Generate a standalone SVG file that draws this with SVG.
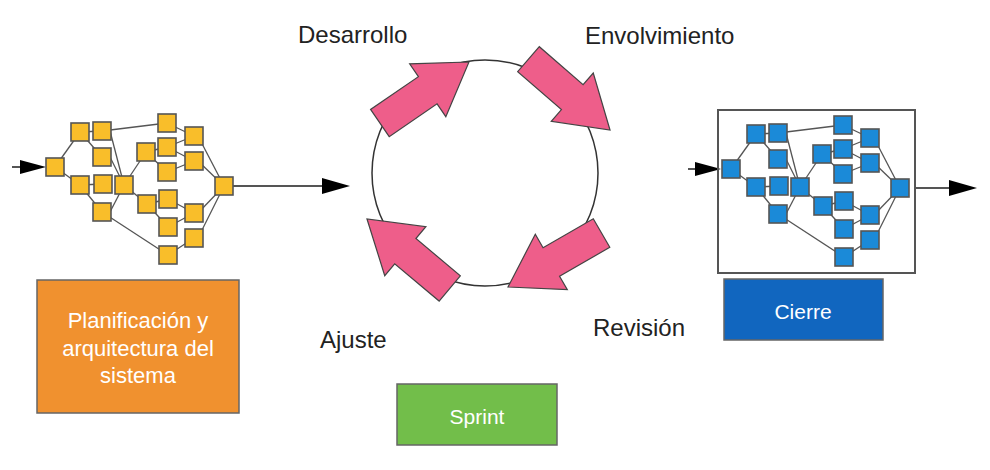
<svg xmlns="http://www.w3.org/2000/svg" xmlns:xlink="http://www.w3.org/1999/xlink" width="990" height="470" viewBox="0 0 990 470">
<style>
.lbl{font-family:"Liberation Sans",Arial,sans-serif;font-size:24px;fill:#222}
.btxt{font-family:"Liberation Sans",Arial,sans-serif;font-size:21px;fill:#fff;text-anchor:middle}
.big{font-size:22px}
.sq{stroke:#555;stroke-width:1.6}
.e{stroke:#555;stroke-width:1.3;fill:none}
.conn{stroke:#555;stroke-width:2;fill:none}
.head{fill:#000}
.parrow{fill:#EE5E8A;stroke:#444;stroke-width:1.2;stroke-linejoin:miter}
.box{stroke:#666;stroke-width:1.5}
</style>
<defs>
<polygon id="pa" points="0,0 -50,-32 -50,-16.5 -108,-16.5 -108,16.5 -50,16.5 -50,32"/>
<g id="net">
<g class="e">
<line x1="55" y1="167" x2="80" y2="132"/>
<line x1="55" y1="167" x2="80" y2="185"/>
<line x1="80" y1="132" x2="102" y2="131"/>
<line x1="80" y1="132" x2="102" y2="157"/>
<line x1="80" y1="185" x2="103" y2="184"/>
<line x1="80" y1="185" x2="102" y2="212"/>
<line x1="102" y1="131" x2="167" y2="123"/>
<line x1="110" y1="131" x2="124" y2="185"/>
<line x1="110" y1="157" x2="124" y2="185"/>
<line x1="110" y1="212" x2="124" y2="185"/>
<line x1="102" y1="212" x2="168" y2="255"/>
<line x1="124" y1="185" x2="146" y2="152"/>
<line x1="124" y1="185" x2="147" y2="204"/>
<line x1="146" y1="152" x2="167" y2="147"/>
<line x1="146" y1="152" x2="167" y2="172"/>
<line x1="147" y1="204" x2="168" y2="199"/>
<line x1="147" y1="204" x2="168" y2="227"/>
<line x1="167" y1="123" x2="194" y2="136"/>
<line x1="167" y1="147" x2="194" y2="136"/>
<line x1="167" y1="147" x2="194" y2="161"/>
<line x1="167" y1="172" x2="194" y2="161"/>
<line x1="168" y1="199" x2="194" y2="213"/>
<line x1="168" y1="227" x2="194" y2="213"/>
<line x1="168" y1="255" x2="194" y2="238"/>
<line x1="198" y1="136" x2="224" y2="186"/>
<line x1="198" y1="161" x2="224" y2="186"/>
<line x1="198" y1="213" x2="224" y2="186"/>
<line x1="198" y1="238" x2="224" y2="186"/>
</g>
<g class="sq">
<rect x="46" y="158" width="18" height="18"/>
<rect x="71" y="123" width="18" height="18"/>
<rect x="93" y="122" width="18" height="18"/>
<rect x="93" y="148" width="18" height="18"/>
<rect x="71" y="176" width="18" height="18"/>
<rect x="94" y="175" width="18" height="18"/>
<rect x="93" y="203" width="18" height="18"/>
<rect x="115" y="176" width="18" height="18"/>
<rect x="137" y="143" width="18" height="18"/>
<rect x="138" y="195" width="18" height="18"/>
<rect x="158" y="114" width="18" height="18"/>
<rect x="158" y="138" width="18" height="18"/>
<rect x="158" y="163" width="18" height="18"/>
<rect x="159" y="190" width="18" height="18"/>
<rect x="159" y="218" width="18" height="18"/>
<rect x="159" y="246" width="18" height="18"/>
<rect x="185" y="127" width="18" height="18"/>
<rect x="185" y="152" width="18" height="18"/>
<rect x="185" y="204" width="18" height="18"/>
<rect x="185" y="229" width="18" height="18"/>
<rect x="215" y="177" width="18" height="18"/>
</g>
</g>
</defs>

<g id="connectors">
<line class="conn" x1="12" y1="167" x2="24" y2="167"/>
<polygon class="head" points="20,160 46,167 20,174"/>
<line class="conn" x1="233" y1="186" x2="326" y2="186"/>
<polygon class="head" points="322,178 350,186 322,194"/>
<line class="conn" x1="688" y1="169" x2="700" y2="169"/>
<polygon class="head" points="695,162 721,169 695,176"/>
<line class="conn" x1="915" y1="188" x2="952" y2="188"/>
<polygon class="head" points="949,180 977,188 949,196"/>
</g>

<g id="net-plan">
<use xlink:href="#net" href="#net" fill="#F9BE2A"/>
</g>

<g id="net-cierre">
<rect x="718" y="110" width="197" height="163" fill="none" stroke="#555" stroke-width="2"/>
<use xlink:href="#net" href="#net" transform="translate(676,2)" fill="#1B8AD8"/>
</g>

<g id="cycle">
<circle cx="485" cy="173" r="113" fill="#fff" stroke="#333" stroke-width="1.5"/>
<use class="parrow" xlink:href="#pa" href="#pa" transform="translate(469,62) rotate(-34.4)"/>
<use class="parrow" xlink:href="#pa" href="#pa" transform="translate(610,130) rotate(41)"/>
<use class="parrow" xlink:href="#pa" href="#pa" transform="translate(508,287) rotate(150)"/>
<use class="parrow" xlink:href="#pa" href="#pa" transform="translate(367,219) rotate(-140)"/>
</g>

<g id="lbl-desarrollo"><text class="lbl" x="298" y="43">Desarrollo</text></g>
<g id="lbl-envolvimiento"><text class="lbl" x="585" y="44">Envolvimiento</text></g>
<g id="lbl-ajuste"><text class="lbl" x="320" y="348">Ajuste</text></g>
<g id="lbl-revision"><text class="lbl" x="593" y="336">Revisión</text></g>

<g id="box-plan">
<rect class="box" x="37" y="280" width="202" height="133" fill="#F0912F"/>
<text class="btxt big" x="138" y="328">Planificación y</text>
<text class="btxt big" x="138" y="356">arquitectura del</text>
<text class="btxt big" x="138" y="383">sistema</text>
</g>

<g id="box-cierre">
<rect class="box" x="724" y="279" width="159" height="61" fill="#1166BF"/>
<text class="btxt" x="803" y="319">Cierre</text>
</g>

<g id="box-sprint">
<rect class="box" x="397" y="384" width="160" height="61" fill="#72BE4A"/>
<text class="btxt" x="477" y="424">Sprint</text>
</g>
</svg>
